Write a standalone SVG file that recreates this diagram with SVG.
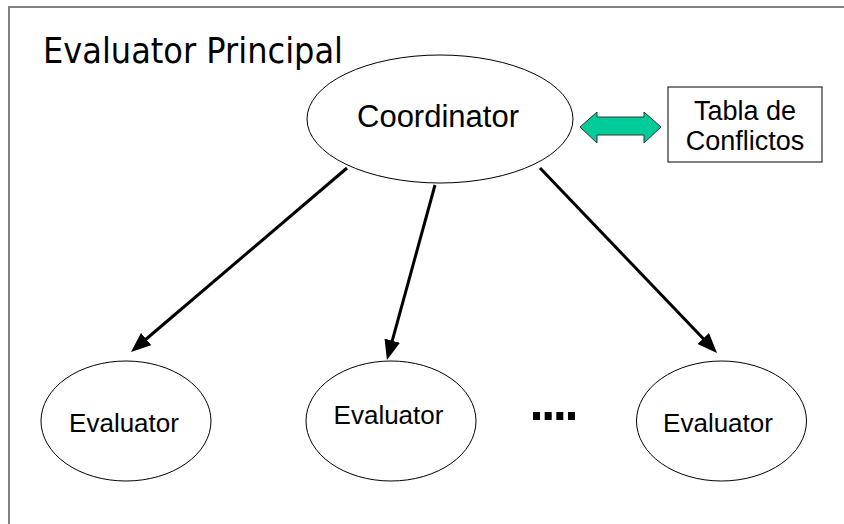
<svg xmlns="http://www.w3.org/2000/svg" width="844" height="524" viewBox="0 0 844 524">
  <style>
    .node { fill: #ffffff; stroke: #000000; stroke-width: 1; }
    .label { font-family: "Liberation Sans", Arial, sans-serif; fill: #000000; text-anchor: middle; }
    .link { stroke: #000000; stroke-width: 3; fill: none; marker-end: url(#head); }
  </style>
  <defs>
    <marker id="head" viewBox="0 0 20 16" refX="10" refY="8" markerWidth="20" markerHeight="16" markerUnits="userSpaceOnUse" orient="auto">
      <path d="M0,0 L20,8 L0,16 z" fill="#000000"/>
    </marker>
  </defs>

  <rect width="844" height="524" fill="#ffffff"/>

  <!-- outer frame, open to the right and bottom -->
  <path d="M9,524 V7 H844" fill="none" stroke="#808080" stroke-width="2"/>

  <text x="43" y="63" font-family="DejaVu Sans, Verdana, sans-serif" font-size="36" textLength="300" lengthAdjust="spacingAndGlyphs">Evaluator Principal</text>

  <g id="coordinator">
    <ellipse class="node" cx="440" cy="119" rx="133" ry="64"/>
    <text class="label" x="438" y="127" font-size="31">Coordinator</text>
  </g>

  <g id="tabla-conflictos">
    <rect class="node" x="668" y="87" width="154" height="75"/>
    <text class="label" x="745" y="120" font-size="27">Tabla de</text>
    <text class="label" x="745" y="150" font-size="27">Conflictos</text>
  </g>

  <g id="evaluator-1">
    <ellipse class="node" cx="126" cy="421" rx="85" ry="60"/>
    <text class="label" x="124" y="432" font-size="26">Evaluator</text>
  </g>

  <g id="evaluator-2">
    <ellipse class="node" cx="391" cy="421" rx="85" ry="60"/>
    <text class="label" x="388.5" y="424" font-size="26">Evaluator</text>
  </g>

  <g id="evaluator-n">
    <ellipse class="node" cx="721.5" cy="421" rx="85" ry="60"/>
    <text class="label" x="718" y="432" font-size="26">Evaluator</text>
  </g>

  <!-- ellipsis between the evaluators -->
  <g id="ellipsis" fill="#000000">
    <rect x="533" y="412" width="7" height="8"/>
    <rect x="544.7" y="412" width="7" height="8"/>
    <rect x="556.3" y="412" width="7" height="8"/>
    <rect x="568" y="412" width="7" height="8"/>
  </g>

  <g id="connectors">
    <line class="link" x1="347" y1="168" x2="138.6" y2="345.5"/>
    <line class="link" x1="435" y1="185" x2="389.6" y2="350.4"/>
    <line class="link" x1="540" y1="168" x2="710.1" y2="345.8"/>
    <polygon points="580,127 597,112 597,117 644,117 644,112 661,127 644,143 644,135 597,135 597,143" fill="#00cc99" stroke="#333333" stroke-width="1"/>
  </g>
</svg>
